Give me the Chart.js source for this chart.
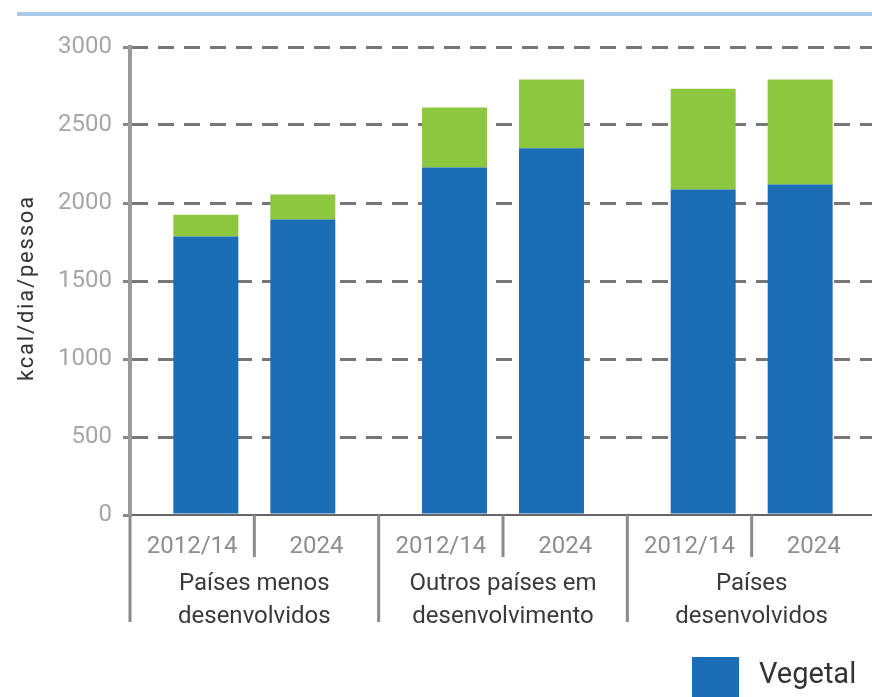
<!DOCTYPE html>
<html>
<head>
<meta charset="utf-8">
<script src="https://cdn.jsdelivr.net/npm/chart.js@4.4.1/dist/chart.umd.min.js"></script>
<style>
    html, body { margin: 0; padding: 0; background: #fff; overflow: hidden; }
    #wrap { width: 876px; height: 697px; }
</style>
</head>
<body>
<div id="wrap"><canvas id="chartKcal" width="876" height="697"></canvas></div>
<script>
// groups on the x axis, two periods in each
const groupLabels = [
    ['Países menos', 'desenvolvidos'],
    ['Outros países em', 'desenvolvimento'],
    ['Países', 'desenvolvidos']
];
const periodLabels = ['2012/14', '2024'];

// kcal/dia/pessoa
const vegetal2012 = [1785, 2227, 2086];
const animal2012 = [140, 385, 647];
const vegetal2024 = [1894, 2351, 2118];
const animal2024 = [160, 440, 673];

const seriesNames = ['Vegetal', 'Animal'];
const yMin = 0;
const yMax = 3000;
const yStep = 500;

const blue = 'rgb(27,110,182)';
const green = 'rgb(141,198,63)';

const axisDecor = {
    id: 'axisDecor',
    beforeDraw(chart) {
        const ctx = chart.ctx;
        ctx.save();
        ctx.strokeStyle = '#a9c9e8';
        ctx.lineWidth = 4;
        ctx.beginPath();
        ctx.moveTo(17, 14);
        ctx.lineTo(chart.width, 14);
        ctx.stroke();
        ctx.restore();
    },
    afterDraw(chart) {
        const ctx = chart.ctx;
        const xScale = chart.scales.x;
        const area = chart.chartArea;
        const cw = xScale.width / groupLabels.length;
        ctx.save();

        // dividers under the axis
        ctx.strokeStyle = '#8a8a8a';
        ctx.lineWidth = 3;
        for (let i = 0; i <= groupLabels.length; i++) {
            const left = xScale.left + i * cw;
            ctx.beginPath();
            ctx.moveTo(left, area.bottom);
            ctx.lineTo(left, 622);
            ctx.stroke();
        }
        groupLabels.forEach((g, i) => {
            const c = xScale.getPixelForValue(i);
            ctx.beginPath();
            ctx.moveTo(c, area.bottom);
            ctx.lineTo(c, 557);
            ctx.stroke();
        });

        // period labels and group labels
        ctx.textAlign = 'center';
        ctx.textBaseline = 'alphabetic';
        groupLabels.forEach((g, i) => {
            const c = xScale.getPixelForValue(i);
            ctx.font = '24px Roboto';
            ctx.fillStyle = '#8e8e8e';
            ctx.fillText(periodLabels[0], c - cw / 4, 553);
            ctx.fillText(periodLabels[1], c + cw / 4, 553);
            ctx.fillStyle = '#3a3a3a';
            ctx.fillText(g[0], c, 590);
            ctx.fillText(g[1], c, 623);
        });

        // y title
        ctx.save();
        ctx.translate(27, 288);
        ctx.rotate(-Math.PI / 2);
        ctx.font = '22px Roboto';
        ctx.fillStyle = '#333';
        ctx.textBaseline = 'middle';
        ctx.letterSpacing = '1.8px';
        ctx.fillText('kcal/dia/pessoa', 0, 0);
        ctx.restore();

        // legend, bottom right (runs off the page like the original)
        let lx = 692;
        ctx.textAlign = 'left';
        ctx.font = '29px Roboto';
        [blue, green].forEach((col, i) => {
            ctx.fillStyle = col;
            ctx.fillRect(lx, 657, 47, 50);
            ctx.fillStyle = '#333';
            ctx.fillText(seriesNames[i], lx + 67, 683);
            lx += 67 + ctx.measureText(seriesNames[i]).width + 40;
        });
        ctx.restore();
    }
};

function initChart() {
    const canvas = document.getElementById('chartKcal');
    new Chart(canvas, {
        type: 'bar',
        data: {
            labels: groupLabels.map(g => g.join(' ')),
            datasets: [
                { label: seriesNames[0] + ' ' + periodLabels[0], data: vegetal2012, backgroundColor: blue, stack: 'p0' },
                { label: seriesNames[1] + ' ' + periodLabels[0], data: animal2012, backgroundColor: green, stack: 'p0' },
                { label: seriesNames[0] + ' ' + periodLabels[1], data: vegetal2024, backgroundColor: blue, stack: 'p1' },
                { label: seriesNames[1] + ' ' + periodLabels[1], data: animal2024, backgroundColor: green, stack: 'p1' }
            ]
        },
        options: {
            responsive: false,
            animation: false,
            categoryPercentage: 0.78,
            barPercentage: 0.67,
            layout: { padding: { top: 47, left: 0, right: 0, bottom: 0 } },
            plugins: {
                legend: { display: false },
                tooltip: { enabled: false }
            },
            scales: {
                x: {
                    stacked: true,
                    ticks: { display: false },
                    grid: { drawOnChartArea: false, drawTicks: false },
                    border: { display: true, color: '#666', width: 2 },
                    afterFit(scale) { scale.height = 182; }
                },
                y: {
                    stacked: true,
                    min: yMin,
                    max: yMax,
                    ticks: {
                        stepSize: yStep,
                        font: { family: 'Roboto', size: 24 },
                        color: '#a6a6a6',
                        padding: 11,
                        callback: v => String(v)
                    },
                    grid: {
                        color: c => c.tick && c.tick.value === 0 ? 'rgba(0,0,0,0)' : '#777',
                        lineWidth: 3,
                        tickLength: 7,
                        tickColor: '#888',
                        tickWidth: 3
                    },
                    border: { display: true, color: '#9a9a9a', width: 4, dash: [16, 10] },
                    afterFit(scale) { scale.width = 130; }
                }
            }
        },
        plugins: [axisDecor]
    });
}

window.addEventListener('load', initChart);
</script>
</body>
</html>
